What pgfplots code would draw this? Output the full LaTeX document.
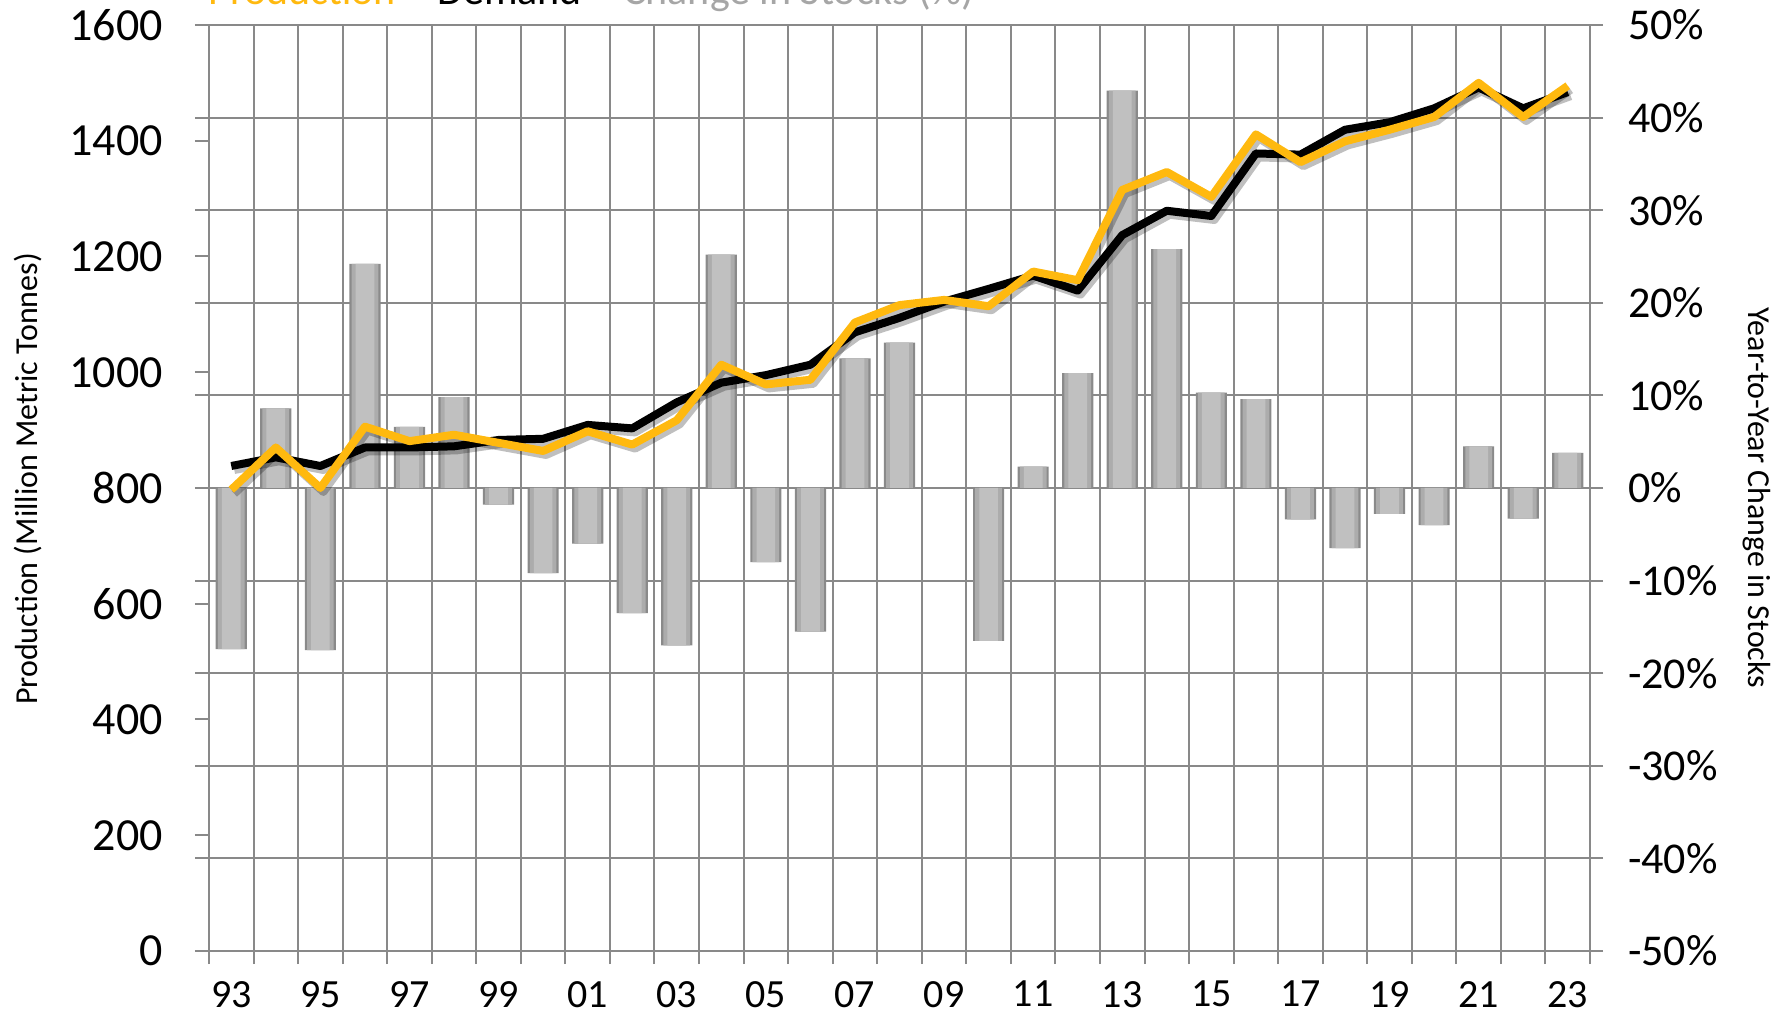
\documentclass[border=0pt]{standalone}
\usepackage{pgfplots}
\usepackage{pgfplotstable}
\pgfplotsset{compat=1.18}
\usepackage{fontspec}
\setmainfont{Carlito}
\definecolor{gold}{RGB}{255,185,15}
\definecolor{gridc}{RGB}{137,137,137}
\definecolor{barlight}{RGB}{192,192,192}
\definecolor{barmid}{RGB}{172,172,172}
\definecolor{baredge}{RGB}{138,138,138}
\definecolor{leggray}{RGB}{166,166,166}

\pgfplotstableread{
x  v
0  -17.4
1  8.6
2  -17.5
3  24.2
4  6.6
5  9.8
6  -1.8
7  -9.2
8  -6.0
9  -13.5
10 -17.0
11 25.2
12 -8.0
13 -15.5
14 14.0
15 15.7
17 -16.5
18 2.3
19 12.4
20 42.9
21 25.8
22 10.3
23 9.6
24 -3.4
25 -6.5
26 -2.8
27 -4.0
28 4.5
29 -3.3
30 3.8
}\stocks

\begin{document}
\begin{tikzpicture}
\useasboundingbox (0,0) rectangle (891.5pt,508.5pt);
\clip (0,0) rectangle (891.5pt,508.5pt);
% secondary axis: bars, grid, right y axis
\begin{axis}[
  at={(104.5pt,33pt)}, anchor=south west,
  scale only axis, width=690.5pt, height=463pt,
  xmin=-0.5, xmax=30.5, ymin=-50, ymax=50,
  clip=false,
  axis line style={gridc, line width=1pt},
  xtick pos=left, ytick pos=right, yticklabel pos=right,
  xtick={-0.5,0.5,...,30.5}, xticklabels={},
  extra x ticks={0,2,...,30},
  extra x tick labels={93,95,97,99,01,03,05,07,09,11,13,15,17,19,21,23},
  extra x tick style={major tick length=0pt, grid=none},
  xticklabel style={font=\fontsize{20}{24}\selectfont, yshift=-11.5pt},
  ytick={-50,-40,...,50},
  yticklabels={-50\%,-40\%,-30\%,-20\%,-10\%,0\%,10\%,20\%,30\%,40\%,50\%},
  yticklabel style={font=\fontsize{22}{26}\selectfont, anchor=west, xshift=9pt},
  xmajorgrids, ymajorgrids,
  major grid style={gridc, line width=1pt},
  tick style={gridc, line width=1pt},
  tick align=outside, major tick length=6.5pt,
]
\pgfplotsinvokeforeach{-50,-40,...,50}{
  \draw[gridc, line width=1pt] ([xshift=-7pt]axis cs:-0.5,#1) -- (axis cs:-0.5,#1);
}
\addplot[ybar, bar width=0.7, draw=none, fill=baredge] table[x=x,y=v] {\stocks};
\addplot[ybar, bar width=0.6, draw=none, fill=barmid] table[x=x,y=v] {\stocks};
\addplot[ybar, bar width=0.42, draw=none, fill=barlight] table[x=x,y=v] {\stocks};
\end{axis}
% primary axis: lines, left y axis
\begin{axis}[
  at={(104.5pt,33pt)}, anchor=south west,
  scale only axis, width=690.5pt, height=463pt,
  xmin=-0.5, xmax=30.5, ymin=0, ymax=1600,
  axis x line=none, axis y line*=left,
  axis line style={gridc, line width=1pt},
  ytick={0,200,...,1600},
  yticklabels={0,200,400,600,800,1000,1200,1400,1600},
  yticklabel style={font=\fontsize{23}{27}\selectfont, anchor=east, xshift=-12.5pt},
  tick style={gridc, line width=1pt},
  tick align=outside, major tick length=7pt,
]
\addplot[black, line width=4pt, line join=round,
  preaction={draw=black, opacity=0.25, line width=4pt, transform canvas={xshift=1.5pt,yshift=-2pt}}]
coordinates {
(0,838) (1,853) (2,838) (3,870) (4,870) (5,872) (6,883) (7,885) (8,909) (9,903)
(10,948) (11,982) (12,995) (13,1013) (14,1069) (15,1094) (16,1122) (17,1144) (18,1167) (19,1141)
(20,1237) (21,1279) (22,1270) (23,1378) (24,1376) (25,1419) (26,1432) (27,1456) (28,1492) (29,1456) (30,1484)
};
\addplot[gold, line width=4pt, line join=round,
  preaction={draw=black, opacity=0.25, line width=4pt, transform canvas={xshift=1.5pt,yshift=-2pt}}]
coordinates {
(0,797) (1,870) (2,800) (3,906) (4,881) (5,892) (6,878) (7,864) (8,898) (9,875)
(10,917) (11,1013) (12,979) (13,987) (14,1086) (15,1116) (16,1125) (17,1114) (18,1174) (19,1159)
(20,1315) (21,1346) (22,1303) (23,1411) (24,1363) (25,1399) (26,1419) (27,1441) (28,1500) (29,1441) (30,1495)
};
\end{axis}
% axis titles
\node[rotate=90, font=\fontsize{16}{19}\selectfont, inner sep=0] at (14pt,269pt) {Production (Million Metric Tonnes)};
\node[rotate=-90, font=\fontsize{16}{19}\selectfont, inner sep=0] at (878.5pt,259.5pt) {Year-to-Year Change in Stocks};
% legend (cut off at the top edge, as in the reference)
\node[anchor=base west, inner sep=0, text=gold, font=\fontsize{21}{25}\selectfont] at (104pt,506pt) {Production};
\node[anchor=base west, inner sep=0, text=black, font=\fontsize{21}{25}\selectfont] at (218.5pt,506pt) {Demand};
\node[anchor=base west, inner sep=0, text=leggray, font=\fontsize{21}{25}\selectfont] at (311.5pt,506pt) {Change in Stocks (\%)};
\end{tikzpicture}
\end{document}
